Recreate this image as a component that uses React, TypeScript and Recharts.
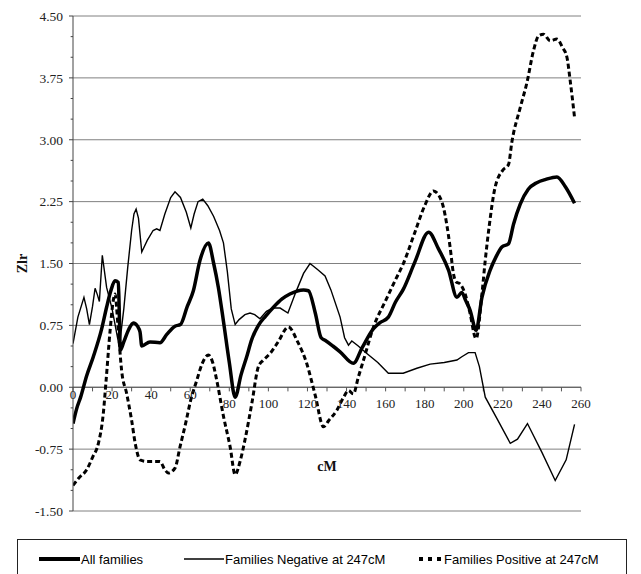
import React from 'react';
import { LineChart, Line, XAxis, YAxis, CartesianGrid, ReferenceLine, ReferenceDot } from 'recharts';

// [cM, Zlr]
const allFamilies: [number, number][] = [
  [0, -0.44], [2, -0.25], [3.9, -0.12], [7, 0.14], [10.4, 0.37], [14.7, 0.71], [17.2, 0.97], [19.5, 1.18],
  [21.5, 1.29], [23.2, 1.27], [23.8, 0.8], [24.2, 0.45], [26, 0.55], [28.5, 0.7], [30.9, 0.78], [33, 0.74],
  [34.3, 0.67], [35.2, 0.5], [39.4, 0.55], [44.5, 0.54], [48, 0.64], [52.2, 0.74], [55, 0.76], [58.5, 0.98],
  [61.6, 1.17], [65, 1.54], [69.3, 1.75], [72, 1.5], [74.4, 1.21], [77, 0.8], [80, 0.3], [83, -0.12],
  [86, 0.15], [88.9, 0.37], [91.5, 0.58], [94.9, 0.75], [98.5, 0.86], [102.6, 0.97], [107, 1.07], [111, 1.13],
  [118, 1.18], [120.5, 1.17], [124, 0.9], [127, 0.6], [129, 0.57], [133, 0.5], [136.7, 0.43], [143.5, 0.29],
  [148, 0.48], [153.8, 0.71], [157, 0.78], [161.4, 0.85], [165, 1.03], [169.1, 1.19], [175, 1.52], [182, 1.88],
  [187, 1.68], [192.2, 1.42], [196.5, 1.09], [199, 1.15], [201, 1.05], [203.3, 0.93], [206.3, 0.69], [209.3, 1.09],
  [213.5, 1.42], [216.5, 1.58], [219.5, 1.7], [222.9, 1.74], [225.5, 1.98], [228.9, 2.22], [233, 2.4], [237.4, 2.48],
  [242, 2.52], [247.7, 2.55], [252, 2.43], [256.7, 2.23],
];

const negativeFamilies: [number, number][] = [
  [0, 0.53], [2.5, 0.85], [5.6, 1.09], [7, 0.95], [8.4, 0.76], [10, 0.98], [11.3, 1.2], [12.5, 1.12],
  [13.5, 1.04], [15, 1.6], [17.2, 1.21], [20, 0.95], [23.7, 0.49], [26, 0.95], [28, 1.45], [30, 1.9],
  [31.2, 2.1], [32.3, 2.16], [33.5, 2.05], [35.2, 1.64], [38, 1.78], [41, 1.9], [42.8, 1.92], [44.5, 1.9],
  [47, 2.1], [50, 2.3], [52.2, 2.37], [55, 2.3], [58, 2.12], [60.3, 1.93], [62, 2.1], [64, 2.25],
  [66.4, 2.28], [69, 2.2], [72, 2.07], [75, 1.9], [77, 1.75], [79, 1.4], [81, 0.95], [83, 0.76],
  [85, 0.82], [88, 0.88], [90.6, 0.9], [93, 0.88], [95.7, 0.83], [99, 0.92], [102.4, 0.96], [106, 0.96],
  [110, 0.9], [114, 1.15], [118, 1.38], [121.3, 1.5], [125, 1.43], [129, 1.35], [132, 1.18], [136.7, 0.85],
  [139, 0.6], [141, 0.51], [142.7, 0.56], [146, 0.5], [150.4, 0.41], [156, 0.3], [161.4, 0.17], [169, 0.17],
  [176, 0.23], [182.8, 0.28], [190, 0.3], [196.5, 0.33], [199, 0.37], [202.4, 0.42], [205.8, 0.42], [208, 0.25],
  [211, -0.12], [217, -0.38], [223.8, -0.68], [227.5, -0.63], [232.6, -0.44], [240, -0.79], [246.8, -1.13],
  [252.4, -0.88], [256.7, -0.45],
];

const positiveFamilies: [number, number][] = [
  [0, -1.19], [3, -1.1], [7, -1.0], [10, -0.85], [13, -0.68], [15.5, -0.32], [17, 0.1], [19, 0.69],
  [20.6, 1.05], [21.5, 1.13], [23, 0.75], [24.9, 0.2], [27.5, -0.08], [30, -0.4], [32, -0.7], [34.3, -0.88],
  [38, -0.9], [44.5, -0.9], [47, -1.0], [48.8, -1.04], [52.2, -0.98], [54.8, -0.72], [58, -0.4], [60, -0.18],
  [63.3, 0.08], [66, 0.28], [69.3, 0.39], [71.5, 0.3], [73.6, 0.08], [77, -0.35], [80.4, -0.72], [83, -1.06],
  [85.5, -0.9], [88, -0.64], [91.5, -0.2], [94.9, 0.25], [97.5, 0.33], [100.9, 0.41], [105, 0.55], [110.2, 0.73],
  [115, 0.55], [119.6, 0.29], [124, -0.1], [128.2, -0.48], [131, -0.4], [135, -0.28], [138.5, -0.12], [141, -0.04],
  [143.5, -0.08], [146, 0.12], [148.7, 0.33], [153.8, 0.73], [160, 1.05], [165, 1.3], [169.1, 1.5], [175, 1.88],
  [180, 2.2], [184.5, 2.38], [186.5, 2.35], [189.6, 2.18], [193, 1.7], [194.7, 1.38], [196, 1.28], [198.2, 1.25],
  [200.7, 1.13], [203, 0.92], [206.3, 0.59], [209.3, 1.13], [211, 1.54], [213, 1.95], [216, 2.42], [220.3, 2.64],
  [222.9, 2.7], [224.6, 2.97], [228.9, 3.39], [232.3, 3.69], [235.7, 4.08], [238.3, 4.26], [240.8, 4.28], [244.2, 4.2],
  [247.7, 4.22], [250.5, 4.12], [252.8, 4.0], [254.5, 3.71], [256.7, 3.27],
];

const seriesNames = ['All families', 'Families Negative at 247cM', 'Families Positive at 247cM'];
const yTicks = [-1.5, -0.75, 0, 0.75, 1.5, 2.25, 3, 3.75, 4.5];
const yMinorTicks = [-1.25, -1, -0.5, -0.25, 0.25, 0.5, 1, 1.25, 1.75, 2, 2.5, 2.75, 3.25, 3.5, 4, 4.25];
const xLabelTicks = [0, 20, 40, 60, 80, 100, 120, 140, 160, 180, 200, 220, 240, 260];
const xMinorTicks = [10, 30, 50, 70, 90, 110, 130, 150, 170, 190, 210, 230, 250];

const toPoints = (arr: [number, number][]) => arr.map(([cm, z]) => ({ cm, z }));

const serif = '"Liberation Serif", "Times New Roman", serif';
const sans = '"Liberation Sans", Arial, sans-serif';

export default function App() {
  return (
    <div style={{ position: 'relative', width: 633, height: 566 }}>
      <LineChart width={633} height={566} margin={{ top: 8, right: 60, left: 0, bottom: 33 }}>
        <CartesianGrid horizontal vertical={false} stroke="#808080" strokeWidth={1} />
        <XAxis
          type="number"
          dataKey="cm"
          domain={[0, 260]}
          ticks={xLabelTicks}
          height={30}
          axisLine={false}
          tickLine={false}
          tick={false}
          allowDataOverflow
          label={{ value: 'cM', position: 'top', offset: 40, style: { fontFamily: serif, fontWeight: 'bold', fontSize: 14, fill: '#111' } }}
        />
        <YAxis
          type="number"
          domain={[-1.5, 4.5]}
          ticks={yTicks}
          interval={0}
          width={65}
          tickSize={4}
          tickMargin={6}
          stroke="#444"
          tickFormatter={(v: number) => v.toFixed(2)}
          tick={{ fontFamily: serif, fontSize: 13.5, fill: '#222' }}
          label={{ value: 'Zlr', angle: -90, position: 'insideLeft', offset: 14, style: { textAnchor: 'middle', fontFamily: serif, fontWeight: 'bold', fontSize: 14, fill: '#111' } }}
        />
        {yMinorTicks.map((v) => (
          <ReferenceLine key={'ym' + v} segment={[{ x: 0, y: v }, { x: -1.2, y: v }]} stroke="#444" ifOverflow="visible" />
        ))}
        <ReferenceLine y={0} stroke="#555" strokeWidth={1} />
        {[...xLabelTicks, ...xMinorTicks].map((v) => (
          <ReferenceLine key={'xt' + v} segment={[{ x: v, y: 0 }, { x: v, y: -0.05 }]} stroke="#555" ifOverflow="visible" />
        ))}
        {xLabelTicks.map((v) => (
          <ReferenceDot
            key={'xl' + v}
            x={v}
            y={0}
            r={0}
            fill="none"
            stroke="none"
            ifOverflow="visible"
            label={{ value: String(v), position: 'bottom', offset: v <= 60 ? 3 : 12, style: { fontFamily: serif, fontSize: 13, fill: '#222' } }}
          />
        ))}
        <Line data={toPoints(negativeFamilies)} dataKey="z" name={seriesNames[1]} type="linear" stroke="#000" strokeWidth={1.4} dot={false} isAnimationActive={false} />
        <Line data={toPoints(positiveFamilies)} dataKey="z" name={seriesNames[2]} type="monotone" stroke="#000" strokeWidth={3} strokeDasharray="5 3" dot={false} isAnimationActive={false} />
        <Line data={toPoints(allFamilies)} dataKey="z" name={seriesNames[0]} type="monotone" stroke="#000" strokeWidth={3.5} dot={false} isAnimationActive={false} />
      </LineChart>
      <div
        style={{
          position: 'absolute',
          left: 9,
          top: 531,
          width: 610,
          height: 50,
          border: '1px solid #222',
          boxSizing: 'border-box',
          background: '#fff',
        }}
      >
        <svg width={608} height={48} style={{ position: 'absolute', left: 0, top: 0 }}>
          <line x1={21} x2={62} y1={19} y2={19} stroke="#000" strokeWidth={4} />
          <text x={63} y={19} dominantBaseline="central" fontFamily={sans} fontSize={13} fill="#000">{seriesNames[0]}</text>
          <line x1={166} x2={206} y1={19} y2={19} stroke="#000" strokeWidth={1.5} />
          <text x={207} y={19} dominantBaseline="central" fontFamily={sans} fontSize={13} fill="#000">{seriesNames[1]}</text>
          <line x1={401} x2={423} y1={19} y2={19} stroke="#000" strokeWidth={4} strokeDasharray="4 5" />
          <text x={426} y={19} dominantBaseline="central" fontFamily={sans} fontSize={13} fill="#000">{seriesNames[2]}</text>
        </svg>
      </div>
    </div>
  );
}
